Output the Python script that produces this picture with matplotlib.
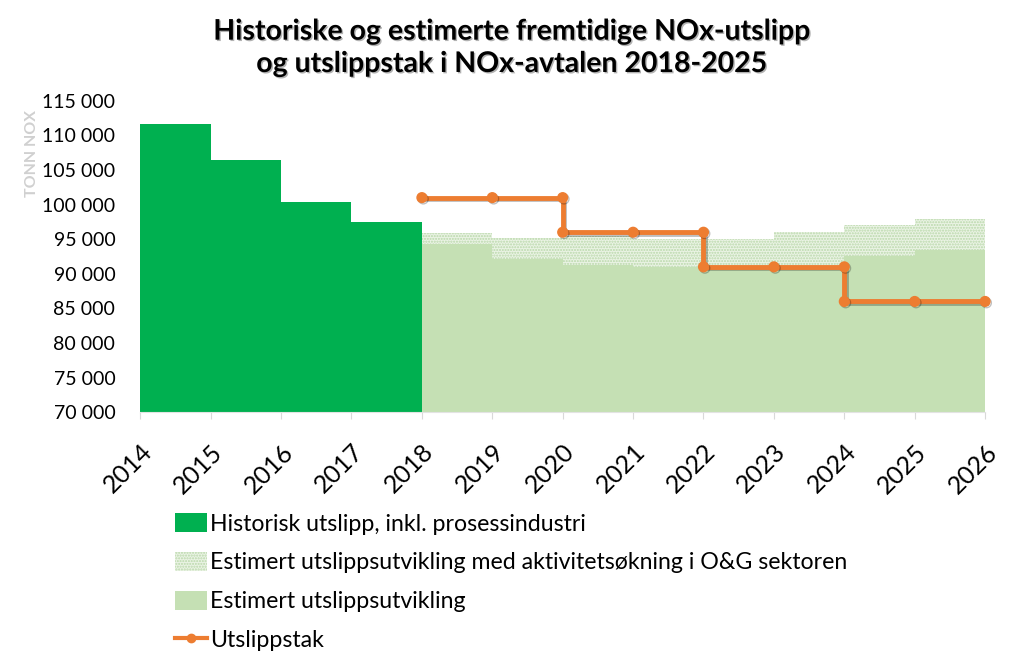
import matplotlib.pyplot as plt
from matplotlib.patches import Patch
from matplotlib.lines import Line2D
import matplotlib.patheffects as pe

# historic emissions (year start of each block)
hist_years = [2014, 2015, 2016, 2017]
hist_values = [111700, 106500, 100300, 97500]

# estimated emissions, base and with O&G activity increase
est_years = [2018, 2019, 2020, 2021, 2022, 2023, 2024, 2025]
est_base = [94300, 92200, 91300, 91000, 90800, 91000, 92500, 93400]
est_og = [95900, 95200, 95400, 95000, 95000, 96000, 97000, 97900]

# emission cap, stepped
cap_years = [2018, 2019, 2020, 2020, 2021, 2022, 2022, 2023, 2024, 2024, 2025, 2026]
cap_values = [101000, 101000, 101000, 96000, 96000, 96000, 91000, 91000, 91000, 86000, 86000, 86000]

tick_years = list(range(2014, 2027))
yticks = list(range(70000, 115001, 5000))

green = "#00b050"
light_green = "#c5e0b4"
hatch_bg = "#eaf3e4"
orange = "#ed7d31"

plt.rcParams['font.family'] = ['Lato', 'DejaVu Sans']
plt.rcParams['hatch.color'] = "#b9d8aa"
plt.rcParams['hatch.linewidth'] = 1.0

fig = plt.figure(figsize=(10.24, 6.67), dpi=100)
ax = fig.add_axes([0.137, 0.382, 0.825, 0.467])

ax.bar(hist_years, hist_values, width=1, align='edge', color=green, linewidth=0)
ax.bar(est_years, est_og, width=1, align='edge', facecolor=hatch_bg,
       hatch='......', linewidth=0)
ax.bar(est_years, est_base, width=1, align='edge', color=light_green, linewidth=0)

shadow = [pe.SimpleLineShadow(offset=(1, -1), alpha=0.25), pe.Normal()]
ax.plot(cap_years, cap_values, color=orange, linewidth=3.5, marker='o',
        markersize=7, path_effects=shadow, zorder=5, clip_on=False)

ax.set_xlim(2014, 2026)
ax.set_ylim(70000, 115000)
ax.set_xticks(tick_years)
ax.set_xticklabels([str(y) for y in tick_years], rotation=45, ha='right',
                   rotation_mode='anchor', fontsize=18)
ax.set_yticks(yticks)
ax.set_yticklabels([f"{v:,}".replace(",", " ") for v in yticks], fontsize=14)
ax.tick_params(axis='y', length=0, pad=18)
ax.tick_params(axis='x', length=5, color="#d9d9d9", pad=15)

for s in ['top', 'right', 'left']:
    ax.spines[s].set_visible(False)
ax.spines['bottom'].set_color("#e3e3e3")

ax.set_ylabel("TONN NOX", color="#d0d0d0", fontsize=11.5, fontweight='bold')
ax.yaxis.set_label_coords(-0.12, 0.83)

fig.text(0.5, 0.972, "Historiske og estimerte fremtidige NOx-utslipp\nog utslippstak i NOx-avtalen 2018-2025",
         ha='center', va='top', fontsize=20.5, fontweight='bold', linespacing=1.3,
         path_effects=[pe.withSimplePatchShadow(offset=(1, -1), alpha=0.3)])

handles = [
    Patch(facecolor=green, linewidth=0),
    Patch(facecolor=hatch_bg, hatch='......', linewidth=0),
    Patch(facecolor=light_green, linewidth=0),
    Line2D([], [], color=orange, linewidth=3, marker='o', markersize=6),
]
labels = [
    "Historisk utslipp, inkl. prosessindustri",
    "Estimert utslippsutvikling med aktivitetsøkning i O&G sektoren",
    "Estimert utslippsutvikling",
    "Utslippstak",
]
fig.legend(handles, labels, loc='upper left', bbox_to_anchor=(0.171, 0.231),
           frameon=False, fontsize=16.7, handlelength=1.38, handleheight=0.9,
           handletextpad=0.13, labelspacing=0.74, borderaxespad=0, borderpad=0)

fig.savefig("out.png", dpi=100)
